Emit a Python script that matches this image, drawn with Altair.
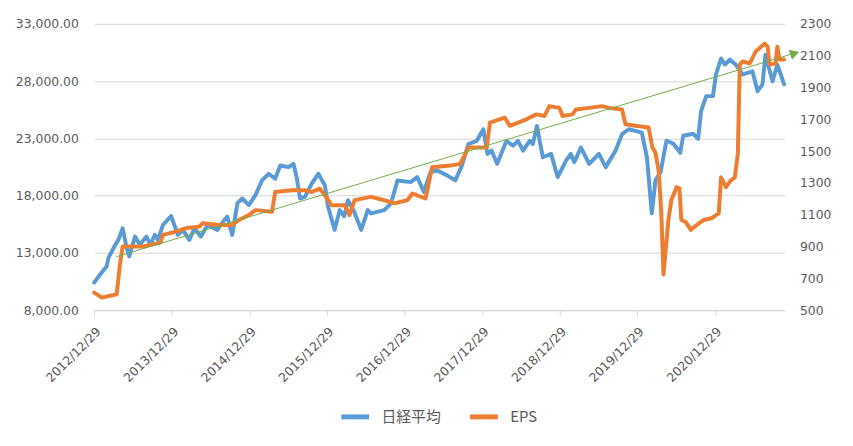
import altair as alt
import pandas as pd

nikkei_dates = [
    "2012-12-29", "2013-01-26", "2013-02-26", "2013-03-06", "2013-03-30", "2013-04-22",
    "2013-05-12", "2013-05-31", "2013-06-12", "2013-07-09", "2013-08-01", "2013-09-01",
    "2013-09-20", "2013-10-10", "2013-10-25", "2013-11-18", "2013-12-26", "2014-01-27",
    "2014-02-19", "2014-03-22", "2014-04-15", "2014-05-15", "2014-06-16", "2014-08-01",
    "2014-09-02", "2014-09-17", "2014-10-10", "2014-11-03", "2014-11-26", "2014-12-27",
    "2015-01-27", "2015-02-27", "2015-03-30", "2015-04-30", "2015-05-24", "2015-07-02",
    "2015-07-25", "2015-08-09", "2015-08-25", "2015-09-17", "2015-10-19", "2015-11-19",
    "2015-12-20", "2016-01-04", "2016-02-04", "2016-02-28", "2016-03-20", "2016-04-07",
    "2016-05-06", "2016-06-08", "2016-07-09", "2016-07-24", "2016-09-25", "2016-10-26",
    "2016-11-26", "2017-01-27", "2017-02-27", "2017-03-30", "2017-04-30", "2017-06-01",
    "2017-07-17", "2017-08-25", "2017-09-25", "2017-10-26", "2017-12-04", "2018-01-04",
    "2018-01-23", "2018-02-12", "2018-03-10", "2018-04-23", "2018-05-24", "2018-06-16",
    "2018-07-10", "2018-08-10", "2018-08-25", "2018-09-13", "2018-10-11", "2018-11-19",
    "2018-12-20", "2019-01-28", "2019-02-20", "2019-03-08", "2019-04-08", "2019-05-17",
    "2019-07-02", "2019-08-03", "2019-09-18", "2019-10-19", "2019-11-19", "2019-12-21",
    "2020-01-20", "2020-02-13", "2020-03-07", "2020-03-24", "2020-04-17", "2020-05-15",
    "2020-06-17", "2020-07-19", "2020-08-02", "2020-09-18", "2020-10-11", "2020-10-25",
    "2020-11-18", "2020-12-20", "2021-01-03", "2021-01-27", "2021-02-14", "2021-03-09",
    "2021-04-06", "2021-05-09", "2021-06-24", "2021-07-18", "2021-08-10", "2021-08-24",
    "2021-09-26", "2021-10-19", "2021-11-20",
]
nikkei_values = [
    10400, 11110, 11830, 12560, 13420, 14140,
    15150, 13420, 12700, 14430, 13710, 14430,
    13710, 14570, 14140, 15440, 16220, 14570,
    15010, 14140, 15150, 14430, 15440, 15010,
    15870, 16160, 14570, 17320, 17750, 17170,
    18040, 19330, 19910, 19480, 20630, 20490,
    20780, 19620, 17750, 17890, 19050, 19910,
    18900, 17030, 15010, 16740, 16200, 17600,
    16600, 15010, 16740, 16450, 16740, 17320,
    19330, 19180, 19620, 18320, 20060, 20200,
    19770, 19330, 20630, 22510, 22790, 23800,
    21640, 21930, 20780, 22790, 22360, 22790,
    21930, 22790, 22510, 24090, 21350, 21640,
    19620, 21060, 21640, 20920, 22210, 20780,
    21640, 20490, 21930, 23370, 23800, 23660,
    23510, 21350, 16450, 19330, 20030, 22800,
    22530, 21750, 23230, 23400, 22970, 25390,
    26690, 26690, 28590, 29970, 29450, 29880,
    29450, 28590, 28850, 27120, 27720, 30310,
    27980, 29450, 27720,
]

eps_dates = [
    "2012-12-29", "2013-02-03", "2013-04-14", "2013-04-30", "2013-05-12", "2013-08-16",
    "2013-11-06", "2013-11-18", "2014-01-18", "2014-03-06", "2014-05-08", "2014-05-23",
    "2014-08-09", "2014-10-10", "2014-11-11", "2014-12-27", "2015-01-27", "2015-04-15",
    "2015-04-30", "2015-07-17", "2015-09-17", "2015-10-19", "2015-11-26", "2015-12-20",
    "2016-01-20", "2016-03-22", "2016-04-14", "2016-05-08", "2016-07-24", "2016-09-25",
    "2016-11-10", "2017-01-11", "2017-02-04", "2017-04-07", "2017-05-08", "2017-08-02",
    "2017-09-17", "2017-10-26", "2018-01-20", "2018-02-04", "2018-04-15", "2018-05-09",
    "2018-07-25", "2018-09-10", "2018-10-19", "2018-11-11", "2018-12-28", "2019-01-12",
    "2019-02-28", "2019-03-16", "2019-05-17", "2019-07-18", "2019-08-18", "2019-10-19",
    "2019-11-04", "2019-12-21", "2020-02-21", "2020-03-10", "2020-03-24", "2020-04-08",
    "2020-04-17", "2020-04-22", "2020-05-01", "2020-05-24", "2020-06-07", "2020-06-26",
    "2020-07-01", "2020-07-15", "2020-07-24", "2020-08-14", "2020-09-07", "2020-10-05",
    "2020-11-07", "2020-12-14", "2021-01-16", "2021-01-27", "2021-02-19", "2021-03-14",
    "2021-04-02", "2021-04-16", "2021-04-25", "2021-05-09", "2021-06-11", "2021-07-09",
    "2021-08-20", "2021-09-03", "2021-09-12", "2021-10-10", "2021-10-19", "2021-10-29",
    "2021-11-20",
]
eps_values = [
    610, 579, 600, 797, 900, 900,
    925, 973, 994, 1015, 1025, 1046,
    1036, 1036, 1067, 1098, 1129, 1119,
    1243, 1254, 1254, 1243, 1264, 1223,
    1160, 1160, 1098, 1192, 1212, 1191,
    1171, 1191, 1233, 1202, 1399, 1409,
    1420, 1523, 1523, 1679, 1710, 1659,
    1700, 1731, 1721, 1783, 1772, 1721,
    1731, 1762, 1772, 1783, 1772, 1762,
    1669, 1659, 1648, 1522, 1490, 1378,
    1192, 1067, 724, 1067, 1192, 1254,
    1273, 1266, 1067, 1054, 1005, 1036,
    1067, 1079, 1110, 1335, 1273, 1316,
    1335, 1484, 2045, 2064, 2051, 2126,
    2176, 2157, 2045, 2051, 2157, 2076,
    2076,
]

trend_dates = ["2013-04-13", "2022-01-01"]
trend_values = [12670, 30400]
arrow_dates = ["2022-01-09"]
arrow_values = [30420]

series_names = ["日経平均", "EPS"]
tick_years = list(range(2012, 2021))
left_ticks = [8000, 13000, 18000, 23000, 28000, 33000]
right_ticks = list(range(500, 2301, 200))

BLUE = "#5B9BD5"
ORANGE = "#ED7D31"
GREEN = "#70AD47"
GRID = "#D9D9D9"
TEXT = "#595959"
AXIS_FONT = "DejaVu Sans"
LEGEND_FONT = "Noto Sans CJK JP"

nikkei_df = pd.DataFrame({"date": nikkei_dates, "value": nikkei_values, "series": series_names[0]})
eps_df = pd.DataFrame({"date": eps_dates, "value": eps_values, "series": series_names[1]})
trend_df = pd.DataFrame({"date": trend_dates, "value": trend_values})
arrow_df = pd.DataFrame({"date": arrow_dates, "value": arrow_values})

x_scale = alt.Scale(
    type="utc",
    domain=[alt.DateTime(year=2012, month=12, date=29, utc=True),
            alt.DateTime(year=2021, month=11, date=22, utc=True)],
    nice=False,
)
x_axis = alt.Axis(
    title=None,
    values=[alt.DateTime(year=y, month=12, date=29, utc=True) for y in tick_years],
    format="%Y/%m/%d",
    labelAngle=-45,
    labelFontSize=12.5,
    labelColor=TEXT,
    labelFont=AXIS_FONT,
    labelPadding=10,
    ticks=True,
    tickColor=GRID,
    tickSize=5,
    domainColor=GRID,
    grid=False,
    labelOverlap=False,
)
x_enc = alt.X("date:T", scale=x_scale, axis=x_axis)

color_scale = alt.Scale(domain=series_names, range=[BLUE, ORANGE])
legend = alt.Legend(
    title=None,
    orient="none",
    direction="horizontal",
    legendX=247,
    legendY=380,
    symbolType="stroke",
    symbolStrokeWidth=5,
    symbolSize=784,
    labelFontSize=15,
    labelColor=TEXT,
    labelFont=LEGEND_FONT,
    columnPadding=18,
    labelOffset=10,
)
color_enc = alt.Color("series:N", scale=color_scale, legend=legend, sort=series_names)

nikkei = alt.Chart(nikkei_df).mark_line(strokeWidth=4, strokeCap="round", strokeJoin="round").encode(
    x=x_enc,
    y=alt.Y("value:Q",
            scale=alt.Scale(domain=[8000, 33000], nice=False, zero=False),
            axis=alt.Axis(title=None, orient="left", values=left_ticks, format=",.2f",
                          grid=True, gridColor=GRID, domain=False, ticks=False, tickSize=0,
                          labelPadding=16, labelFontSize=12.5, labelColor=TEXT, labelFont=AXIS_FONT)),
    color=color_enc,
)

eps = alt.Chart(eps_df).mark_line(strokeWidth=4, strokeCap="round", strokeJoin="round").encode(
    x=x_enc,
    y=alt.Y("value:Q",
            scale=alt.Scale(domain=[500, 2300], nice=False, zero=False),
            axis=alt.Axis(title=None, orient="right", values=right_ticks, format="d",
                          grid=False, domain=False, ticks=False, tickSize=0,
                          labelPadding=15, labelFontSize=12.5, labelColor=TEXT, labelFont=AXIS_FONT)),
    color=color_enc,
)

trend = alt.Chart(trend_df).mark_line(strokeWidth=1, color=GREEN).encode(
    x=x_enc,
    y=alt.Y("value:Q", scale=alt.Scale(domain=[8000, 33000], nice=False, zero=False), axis=None),
)

arrow = alt.Chart(arrow_df).mark_point(shape="triangle-right", filled=True, color=GREEN,
                                       size=110, angle=343, opacity=1).encode(
    x=x_enc,
    y=alt.Y("value:Q", scale=alt.Scale(domain=[8000, 33000], nice=False, zero=False), axis=None),
)

chart = alt.layer(nikkei, eps, trend, arrow).resolve_scale(y="independent").properties(
    width=697,
    height=289,
    autosize=alt.AutoSizeParams(type="none"),
    padding={"left": 87, "top": 14, "right": 61, "bottom": 123},
    background="white",
).configure_view(stroke=None)

chart.save("out.html", embed_options={"renderer": "svg", "actions": False})
